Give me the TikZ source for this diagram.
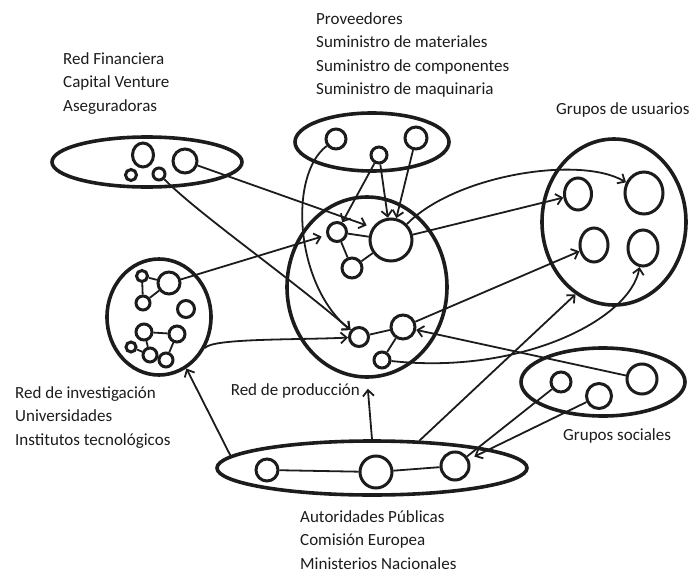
\documentclass[tikz,border=0pt]{standalone}
\usepackage{fontspec}
\setmainfont{Carlito}
\usetikzlibrary{shapes.geometric, arrows.meta, positioning}
\definecolor{mydark}{RGB}{28,28,28}
\tikzset{
  group/.style={ellipse, draw=mydark, line width=3.6pt, inner sep=0pt},
  actor/.style={ellipse, draw=mydark, fill=white, line width=3pt,
    inner sep=0pt, minimum size=#1},
  link/.style={line width=1.8pt, color=mydark},
  arrow/.style={-{Straight Barb[length=6pt, width=11pt]}, line width=1.8pt, color=mydark},
  legend/.style={align=left, anchor=north west, inner sep=0pt,
    font=\fontsize{17}{23.5}\selectfont, text=mydark}
}

\begin{document}
\begin{tikzpicture}[x=1pt, y=-1pt]
  \useasboundingbox (0,0) rectangle (697,573);

  % Groups
  \node[group, minimum width=190pt, minimum height=50pt] (fin) at (147,162) {};
  \node[group, minimum width=154pt, minimum height=58pt] (prov) at (372,142) {};
  \node[group, minimum width=160pt, minimum height=180pt] (prod) at (367,287) {};
  \node[group, minimum width=104pt, minimum height=116pt] (res) at (159,317) {};
  \node[group, minimum width=144pt, minimum height=166pt] (users) at (614,222) {};
  \node[group, minimum width=164pt, minimum height=68pt] (soc) at (603,382) {};
  \node[group, minimum width=310pt, minimum height=54pt] (auth) at (372,468) {};

  % Red financiera
  \node[actor=21pt, minimum height=24pt] (fin1) at (143,155) {};
  \node[actor=24pt] (fin2) at (185,161) {};
  \node[actor=11pt] (fin3) at (131,175) {};
  \node[actor=12pt] (fin4) at (159,174) {};

  % Proveedores
  \node[actor=20pt] (prov1) at (336,139) {};
  \node[actor=16pt] (prov2) at (379,155) {};
  \node[actor=22pt] (prov3) at (416,138) {};

  % Red de produccion
  \node[actor=19pt] (prod1) at (337,232) {};
  \node[actor=42pt] (prodbig) at (391,240) {};
  \node[actor=20pt] (prod3) at (352,268) {};
  \node[actor=19pt] (prodA) at (359,337) {};
  \node[actor=24pt] (prodB) at (403,327) {};
  \node[actor=16pt] (prodC) at (382,360) {};
  \draw[link] (prod1) -- (prodbig);
  \draw[link] (prod1) -- (prod3);
  \draw[link] (prod3) -- (prodbig);
  \draw[link] (prodA) -- (prodB);
  \draw[link] (prodB) -- (prodC);

  % Red de investigacion
  \node[actor=11pt] (res1) at (142,276) {};
  \node[actor=22pt] (res2) at (169,283) {};
  \node[actor=14pt] (res3) at (143,303) {};
  \node[actor=17pt] (res4) at (186,309) {};
  \node[actor=16pt] (res5) at (144,332) {};
  \node[actor=16pt] (res6) at (177,334) {};
  \node[actor=10pt] (res7) at (131,347) {};
  \node[actor=14pt] (res8) at (150,355) {};
  \node[actor=14pt] (res9) at (166,360) {};
  \draw[link] (res1) -- (res2);
  \draw[link] (res1) -- (res3);
  \draw[link] (res3) -- (res2);
  \draw[link] (res5) -- (res6);
  \draw[link] (res6) -- (res9);
  \draw[link] (res5) -- (res8);
  \draw[link] (res7) -- (res8);

  % Grupos de usuarios
  \node[actor=27pt, minimum height=32pt] (users1) at (578,194) {};
  \node[actor=38pt, minimum height=42pt] (users2) at (644,193) {};
  \node[actor=28pt, minimum height=34pt] (users3) at (594,245) {};
  \node[actor=30pt, minimum height=36pt] (users4) at (643,248) {};

  % Grupos sociales
  \node[actor=20pt] (soc1) at (561,382) {};
  \node[actor=25pt] (soc2) at (599,396) {};
  \node[actor=30pt] (soc3) at (642,379) {};

  % Autoridades publicas
  \node[actor=22pt] (auth1) at (267,470) {};
  \node[actor=32pt] (auth2) at (376,472) {};
  \node[actor=28pt] (auth3) at (455,466) {};
  \draw[link] (auth1) -- (auth2);
  \draw[link] (auth2) -- (auth3);

  % Flows
  \draw[arrow, shorten >=6pt] (fin2) -- (prodbig.146);
  \draw[arrow] (fin4) .. controls (200,215) and (280,270) .. (prodA);
  \draw[arrow] (prov1) .. controls (288,175) and (295,285) .. (prodA);
  \draw[arrow] (prov2) -- (prod1);
  \draw[arrow] (prov2) -- (prodbig);
  \draw[arrow] (prov3) -- (prodbig);
  \draw[arrow, shorten >=5pt] (res2) -- (prod1);
  \draw[arrow] (res.-34) .. controls (212,338) and (300,340) .. (prodA);
  \draw[arrow] (prodbig) -- (users1);
  \draw[arrow] (prodbig.45) .. controls (455,175) and (580,155) .. (users2);
  \draw[arrow] (prodB) -- (users3);
  \draw[arrow] (soc3) -- (prodB);
  \draw[arrow] (prodC) .. controls (520,375) and (630,320) .. (users4);
  \draw[arrow] (auth.175) -- (res.-62);
  \draw[arrow, shorten >=10pt] (auth.north) -- (prod.south);
  \draw[arrow] (auth.30) -- (users.-118);
  \draw[link] (soc1) -- (auth3);
  \draw[arrow, shorten >=6pt] (soc2) -- (auth3);

  % Labels
  \node[legend] (finlabel) at (63,52) {Red Financiera\\Capital Venture\\Aseguradoras};
  \node[legend] (provlabel) at (316,12) {Proveedores\\Suministro de materiales\\Suministro de componentes\\Suministro de maquinaria};
  \node[legend] (userslabel) at (556,102) {Grupos de usuarios};
  \node[legend] (reslabel) at (15,386) {Red de investigación\\Universidades\\Institutos tecnológicos};
  \node[legend, anchor=north east] (prodlabel) at (360,383) {Red de producción};
  \node[legend] (soclabel) at (563,428) {Grupos sociales};
  \node[legend] (authlabel) at (300,510) {Autoridades Públicas\\Comisión Europea\\Ministerios Nacionales};
\end{tikzpicture}
\end{document}
